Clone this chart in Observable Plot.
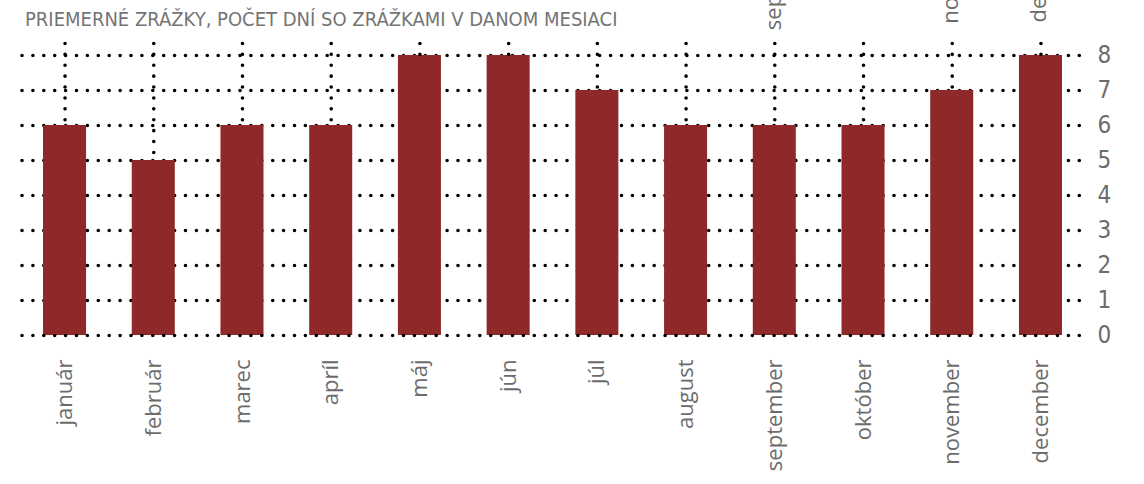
<!DOCTYPE html>
<html>
<head>
<meta charset="utf-8">
<script src="https://cdn.jsdelivr.net/npm/d3@7"></script>
<script src="https://cdn.jsdelivr.net/npm/@observablehq/plot@0.6"></script>
<style>
  html, body { margin: 0; padding: 0; background: #fff; }
  #wrap { position: relative; width: 1144px; height: 484px; overflow: hidden; background: #fff; }
  #title { position: absolute; left: 25px; top: 7px; font-family: 'Liberation Sans Narrow', 'DejaVu Sans Condensed', 'Liberation Sans', sans-serif; font-size: 20px; line-height: normal; color: #747474; white-space: nowrap; }
  #ghost { position: absolute; left: 0; top: 0; width: 1144px; height: 37px; overflow: hidden; }
  #ghost svg { position: absolute; left: 0; top: -407px; }
  #chart { position: absolute; left: 0; top: 34px; }
</style>
</head>
<body>
<div id="wrap">
  <div id="ghost"></div>
  <div id="title"></div>
  <div id="chart"></div>
</div>
<script>
// ---- data ----
const titleText = "PRIEMERNÉ ZRÁŽKY, POČET DNÍ SO ZRÁŽKAMI V DANOM MESIACI";
const months = ["január", "február", "marec", "apríl", "máj", "jún", "júl", "august", "september", "október", "november", "december"];
const rainDays = [6, 5, 6, 6, 8, 8, 7, 6, 6, 6, 7, 8];
const yTicks = [0, 1, 2, 3, 4, 5, 6, 7, 8];
// month labels of the chart above, whose lower ends show at the top edge
const ghostMonths = ["september", "november", "december"];
const stemTop = 8.33;

// ---- style ----
const barColor = "#8f2828";
const labelColor = "#6c6c6c";
const narrowFont = "'Liberation Sans Narrow', 'DejaVu Sans Condensed', 'Liberation Sans', sans-serif";
const labelFont = "'Open Sans', 'DejaVu Sans', sans-serif";
const dotted = { stroke: "#000", strokeWidth: 3.6, strokeDasharray: "0 10.9", strokeLinecap: "round" };

const data = months.map((m, i) => ({ month: m, days: rainDays[i] }));

document.getElementById("title").textContent = titleText;

const xScale = { domain: months, range: [22, 1083], paddingInner: 0.515, paddingOuter: 0.237, round: false, label: null };
const common = {
  width: 1144, height: 450,
  marginTop: 21, marginBottom: 149, marginLeft: 22, marginRight: 56,
  style: { fontFamily: labelFont, background: "transparent", overflow: "visible" }
};
const axisOpts = { tickSize: 0, tickPadding: 24, tickRotate: -90, fontSize: 22, fill: labelColor, label: null };

const chart = Plot.plot({
  ...common,
  x: xScale,
  y: { domain: [0, 8], label: null },
  marks: [
    Plot.ruleY(yTicks.filter(v => v > 0), dotted),
    Plot.barY(data, { x: "month", y: "days", fill: barColor }),
    Plot.ruleY([0], dotted),
    Plot.ruleX(data, { x: "month", y1: () => stemTop, y2: "days", ...dotted }),
    Plot.axisY(yTicks, { anchor: "right", tickSize: 0, tickPadding: 9, fontSize: 24, fill: labelColor, fontFamily: narrowFont, label: null }),
    Plot.axisX(axisOpts)
  ]
});
document.getElementById("chart").appendChild(chart);

const ghost = Plot.plot({
  ...common,
  x: xScale,
  marks: [Plot.axisX(ghostMonths, axisOpts)]
});
document.getElementById("ghost").appendChild(ghost);
</script>
</body>
</html>
